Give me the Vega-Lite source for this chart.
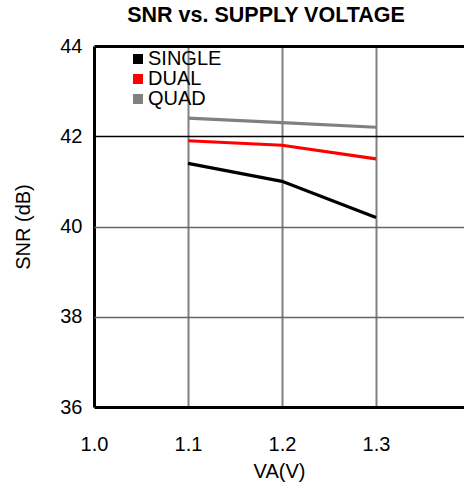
{
  "$schema": "https://vega.github.io/schema/vega-lite/v6.json",
  "autosize": "none",
  "padding": {"left": 94, "top": 46, "right": 0, "bottom": 78},
  "width": 370,
  "height": 361,
  "background": "white",
  "config": {
    "font": "Liberation Sans",
    "view": {"stroke": null},
    "axis": {"labelFont": "Liberation Sans", "titleFont": "Liberation Sans", "labelColor": "black", "titleColor": "black", "titleFontWeight": "normal", "labelFlush": false}
  },
  "title": {
    "text": "SNR vs. SUPPLY VOLTAGE",
    "fontSize": 21.5,
    "fontWeight": "bold",
    "font": "Liberation Sans",
    "color": "black",
    "anchor": "middle",
    "frame": "group",
    "baseline": "alphabetic",
    "offset": -7,
    "dx": -13
  },
  "data": {
    "values": [
      {"v": 1.1, "snr": 41.4, "config": "SINGLE"},
      {"v": 1.2, "snr": 41.0, "config": "SINGLE"},
      {"v": 1.3, "snr": 40.2, "config": "SINGLE"},
      {"v": 1.1, "snr": 41.9, "config": "DUAL"},
      {"v": 1.2, "snr": 41.8, "config": "DUAL"},
      {"v": 1.3, "snr": 41.5, "config": "DUAL"},
      {"v": 1.1, "snr": 42.4, "config": "QUAD"},
      {"v": 1.2, "snr": 42.3, "config": "QUAD"},
      {"v": 1.3, "snr": 42.2, "config": "QUAD"}
    ]
  },
  "mark": {"type": "line", "strokeWidth": 3.2},
  "encoding": {
    "x": {
      "field": "v",
      "type": "quantitative",
      "scale": {"domain": [1.0, 1.3936], "nice": false, "zero": false},
      "axis": {
        "values": [1.0, 1.1, 1.2, 1.3],
        "format": ".1f",
        "title": "VA(V)",
        "titleFontSize": 20,
        "titlePadding": 7,
        "labelFontSize": 20,
        "labelPadding": 27,
        "labelFlush": false,
        "ticks": false,
        "domain": false,
        "grid": true,
        "gridColor": {"condition": {"test": "datum.value == 1", "value": "black"}, "value": "#808080"},
        "gridWidth": {"condition": {"test": "datum.value == 1", "value": 3}, "value": 2},
        "gridOpacity": 1
      }
    },
    "y": {
      "field": "snr",
      "type": "quantitative",
      "scale": {"domain": [36, 44], "nice": false, "zero": false},
      "axis": {
        "values": [36, 38, 40, 42, 44],
        "title": "SNR (dB)",
        "titleFontSize": 20,
        "titlePadding": 26,
        "labelFontSize": 20,
        "labelPadding": 12,
        "labelFlush": false,
        "ticks": false,
        "domain": false,
        "grid": true,
        "gridColor": {"condition": {"test": "datum.value == 36 || datum.value == 42 || datum.value == 44", "value": "black"}, "value": "#666666"},
        "gridWidth": {"condition": {"test": "datum.value == 36 || datum.value == 44", "value": 3}, "value": 1.3},
        "gridOpacity": 1
      }
    },
    "color": {
      "field": "config",
      "type": "nominal",
      "scale": {"domain": ["SINGLE", "DUAL", "QUAD"], "range": ["#000000", "#ff0000", "#808080"]},
      "legend": {
        "title": null,
        "orient": "none",
        "legendX": 34,
        "legendY": 3,
        "padding": 0,
        "rowPadding": 0,
        "symbolType": "square",
        "symbolSize": 100,
        "symbolStrokeWidth": 0,
        "labelFontSize": 20,
        "labelFont": "Liberation Sans",
        "labelColor": "black",
        "labelOffset": 0,
        "encode": {
          "symbols": {"update": {"fill": {"scale": "color", "field": "value"}, "strokeWidth": {"value": 0}}}
        }
      }
    }
  }
}
